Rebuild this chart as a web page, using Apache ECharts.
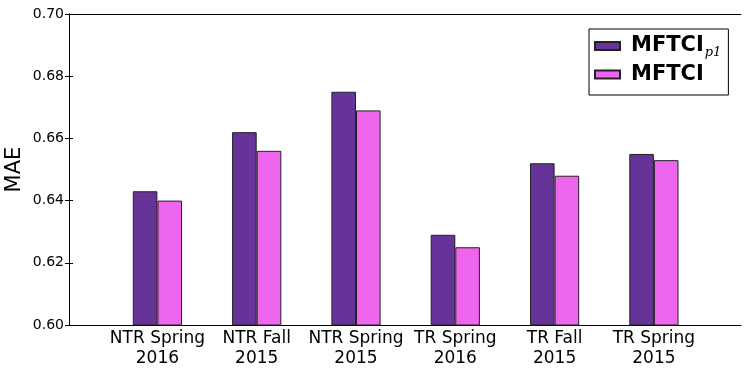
<!DOCTYPE html>
<html><head><meta charset="utf-8">
<script src="https://cdn.jsdelivr.net/npm/echarts@6/dist/echarts.min.js"></script>
<style>html,body{margin:0;padding:0;background:#fff}#c{width:747px;height:372px}</style>
</head><body><div id="c"></div>
<script>
const categories = ['NTR Spring\n2016', 'NTR Fall\n2015', 'NTR Spring\n2015', 'TR Spring\n2016', 'TR Fall\n2015', 'TR Spring\n2015'];
const seriesNames = ['MFTCI_p1', 'MFTCI'];
const mftciP1 = [0.643, 0.662, 0.675, 0.629, 0.652, 0.655];
const mftci = [0.640, 0.656, 0.669, 0.625, 0.648, 0.653];
const yTicks = [0.60, 0.62, 0.64, 0.66, 0.68, 0.70];

const FONT = 'DejaVu Sans';
const chart = echarts.init(document.getElementById('c'), null, {renderer: 'canvas'});
const yMin = yTicks[0], yMax = yTicks[yTicks.length - 1];
const plotTop = 14, plotBottom = 47;
chart.setOption({
  animation: false,
  textStyle: {fontFamily: FONT},
  grid: [
    {left: 69, right: 6, top: plotTop, bottom: plotBottom, containLabel: false, outerBoundsMode: 'none'},
    {left: 107.75, right: 43.45, top: plotTop, bottom: plotBottom, containLabel: false, outerBoundsMode: 'none'}
  ],
  xAxis: [
    {gridIndex: 0, type: 'value', min: 0, max: 1, position: 'bottom',
     axisLine: {show: true, lineStyle: {color: '#000', width: 1}}, axisTick: {show: false}, axisLabel: {show: false}, splitLine: {show: false}},
    {gridIndex: 0, type: 'value', min: 0, max: 1, position: 'top',
     axisLine: {show: true, lineStyle: {color: '#000', width: 1}}, axisTick: {show: false}, axisLabel: {show: false}, splitLine: {show: false}},
    {gridIndex: 1, type: 'category', data: categories,
     axisLine: {show: false}, axisTick: {show: false}, splitLine: {show: false},
     axisLabel: {color: '#000', fontSize: 17, fontFamily: FONT, lineHeight: 20, margin: 4, interval: 0}}
  ],
  yAxis: [
    {gridIndex: 0, type: 'value', min: yMin, max: yMax, interval: 0.02, position: 'left',
     name: 'MAE', nameLocation: 'middle', nameGap: 44, nameRotate: 90, nameMoveOverlap: false,
     nameTextStyle: {fontSize: 21, color: '#000', fontFamily: FONT},
     axisLine: {show: true, lineStyle: {color: '#000', width: 1}},
     axisTick: {show: true, inside: true, length: 4, lineStyle: {color: '#000'}},
     axisLabel: {color: '#000', fontSize: 14, fontFamily: FONT, margin: 5, formatter: v => v.toFixed(2)},
     splitLine: {show: false}},
    {gridIndex: 0, type: 'value', min: yMin, max: yMax, interval: 0.02, position: 'right',
     axisLine: {show: true, lineStyle: {color: '#000', width: 1}},
     axisTick: {show: true, inside: true, length: 4, lineStyle: {color: '#000'}},
     axisLabel: {show: false}, splitLine: {show: false}},
    {gridIndex: 1, type: 'value', min: yMin, max: yMax, show: false, splitLine: {show: false}}
  ],
  legend: {
    orient: 'vertical', left: 589, top: 29,
    padding: [5, 7, 10, 5], itemGap: 5,
    itemWidth: 25, itemHeight: 8, icon: 'rect',
    borderColor: '#000', borderWidth: 1, borderRadius: 0,
    backgroundColor: '#fff',
    data: seriesNames,
    formatter: n => n === 'MFTCI_p1' ? '{b|MFTCI}{s|p1}' : '{b|MFTCI}',
    textStyle: {
      color: '#000', padding: [0, 0, 0, 6],
      rich: {
        b: {fontSize: 21, fontWeight: 'bold', fontFamily: FONT, color: '#000', lineHeight: 26},
        s: {fontSize: 13, fontStyle: 'italic', fontFamily: 'DejaVu Serif', color: '#000', verticalAlign: 'bottom', padding: [12, 0, 0, 1], lineHeight: 26}
      }
    }
  },
  series: [
    {name: seriesNames[0], type: 'bar', xAxisIndex: 2, yAxisIndex: 2, data: mftciP1,
     barWidth: 24.6, barGap: '0%',
     itemStyle: {color: '#663399', borderColor: '#222', borderWidth: 1}},
    {name: seriesNames[1], type: 'bar', xAxisIndex: 2, yAxisIndex: 2, data: mftci,
     barWidth: 24.6, barGap: '0%',
     itemStyle: {color: '#ee66ee', borderColor: '#222', borderWidth: 1}}
  ]
});
</script></body></html>
